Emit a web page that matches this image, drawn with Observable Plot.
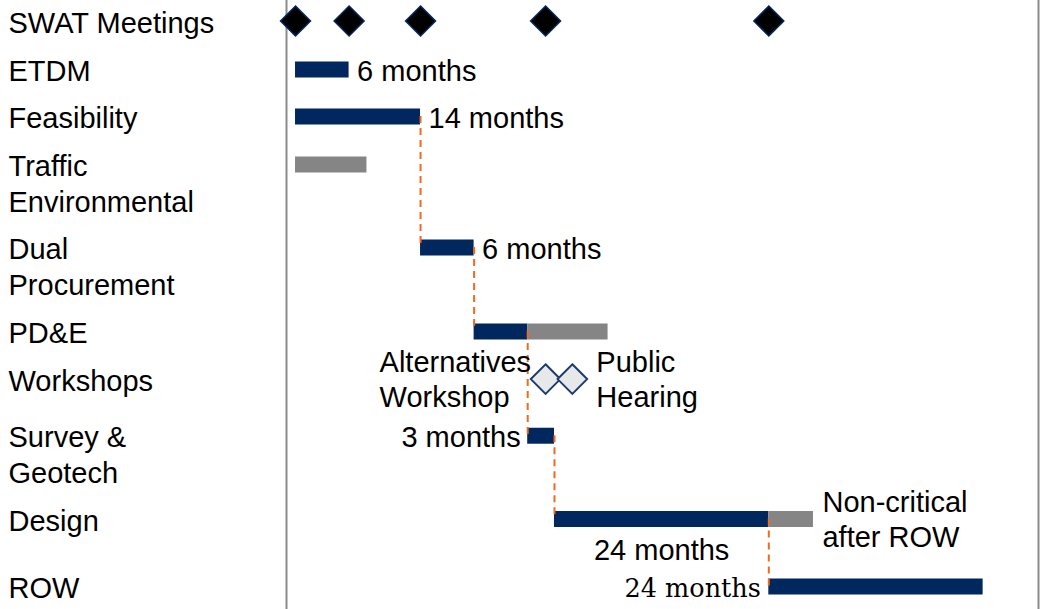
<!DOCTYPE html>
<html><head><meta charset="utf-8">
<script src="https://cdn.jsdelivr.net/npm/d3@7"></script>
<script src="https://cdn.jsdelivr.net/npm/@observablehq/plot@0.6"></script>
<style>html,body{margin:0;padding:0;background:#fff;}</style>
</head><body><div id="chart"></div>
<script>
// ---- data ----
const rows   = ["SWAT Meetings","ETDM","Feasibility","Traffic\nEnvironmental","Dual\nProcurement","PD&E","Workshops","Survey &\nGeotech","Design","ROW"];
const rowPos = [0, 1.01, 1.99, 2.99, 4.72, 6.47, 7.46, 8.64, 10.375, 11.78]; // row units (top = 0)

const barTask  = ["ETDM","Feasibility","Traffic\nEnvironmental","Dual\nProcurement","PD&E","PD&E","Survey &\nGeotech","Design","Design","ROW"];
const barStart = [0, 0, 0, 14, 20, 26, 26, 29, 53, 53];   // months
const barEnd   = [6, 14, 8, 20, 26, 35, 29, 53, 58, 77];
const barKind  = ["critical","critical","other","critical","critical","other","critical","critical","other","critical"];

const swatMonths     = [0, 6, 14, 28, 53];
const workshopMonths = [28, 31];
const workshopNames  = ["Alternatives\nWorkshop", "Public\nHearing"];
const criticalPath   = ["Feasibility","Dual\nProcurement","PD&E","Survey &\nGeotech","Design","ROW"];
const nonCriticalNote = "Non-critical\nafter ROW";

// ---- derived ----
const xDomain = [-1.01, 83.2];
const yOf = Object.fromEntries(rows.map((r, i) => [r, rowPos[i]]));
const rowData = rows.map((r, i) => ({label: r, y: rowPos[i]}));
const bars = barTask.map((t, i) => ({task: t, y: yOf[t], start: barStart[i], end: barEnd[i], kind: barKind[i],
  label: `${barEnd[i] - barStart[i]} months`}));
const critical = bars.filter(d => d.kind === "critical");
const other = bars.filter(d => d.kind !== "critical");
const connectors = d3.pairs(criticalPath).map(([a, b]) => {
  const bar = critical.find(d => d.task === a);
  return {x: bar.end, y1: yOf[a], y2: yOf[b]};
});
const labelRight = critical.filter(d => ["ETDM","Feasibility","Dual\nProcurement"].includes(d.task));
const labelLeft  = critical.filter(d => d.task === "Survey &\nGeotech");
const labelBelow = critical.filter(d => d.task === "Design");
const labelSerif = critical.filter(d => d.task === "ROW");
const noteBar = other.filter(d => d.task === "Design");

const NAVY = "#00285e", GRAY = "#858585", ORANGE = "#f26a1b";
const SANS = "'Liberation Sans', Arial, sans-serif";

const chart = Plot.plot({
  width: 1044, height: 609,
  marginLeft: 286, marginRight: 6, marginTop: 0, marginBottom: 0,
  x: {domain: xDomain, axis: null},
  y: {domain: [-0.427, 12.26], range: [0, 609], axis: null},
  style: {fontFamily: SANS, fontSize: "29px", background: "white", color: "black", overflow: "visible"},
  marks: [
    Plot.ruleX(xDomain, {stroke: "#8c8c8c", strokeWidth: 2}),
    Plot.ruleY(critical, {y: "y", x1: "start", x2: "end", stroke: NAVY, strokeWidth: 16}),
    Plot.ruleY(other, {y: "y", x1: "start", x2: "end", stroke: GRAY, strokeWidth: 16}),
    Plot.ruleX(connectors, {x: "x", y1: "y1", y2: "y2", stroke: ORANGE, strokeWidth: 2, strokeDasharray: "7,5"}),
    Plot.dot(swatMonths, {x: d => d, y: () => yOf["SWAT Meetings"], symbol: "diamond2", r: 13.5,
      fill: "black", stroke: NAVY, strokeWidth: 1.5}),
    Plot.dot(workshopMonths, {x: d => d, y: () => yOf["Workshops"], symbol: "diamond2", r: 13.3,
      fill: "#e6e8ea", stroke: "#1f3b6b", strokeWidth: 2}),
    // row labels
    Plot.text(rowData, {y: "y", text: "label", frameAnchor: "left", dx: -278, textAnchor: "start",
      lineAnchor: "top", dy: -14, lineHeight: 1.24, fontSize: 29, fill: "black"}),
    // duration labels
    Plot.text(labelRight, {x: "end", y: "y", text: "label", dx: 8, dy: 2, textAnchor: "start", fontSize: 29, fill: "black"}),
    Plot.text(labelLeft, {x: "start", y: "y", text: "label", dx: -7, dy: 2, textAnchor: "end", fontSize: 29, fill: "black"}),
    Plot.text(labelBelow, {x: d => (d.start + d.end) / 2, y: "y", text: "label", dy: 32, fontSize: 29, fill: "black"}),
    Plot.text(labelSerif, {x: "start", y: "y", text: "label", dx: -8, dy: 2, textAnchor: "end",
      fontFamily: "'DejaVu Serif', serif", fontSize: 25.5, fill: "black"}),
    Plot.text(noteBar, {x: "end", y: "y", text: () => nonCriticalNote, dx: 9, dy: -1, textAnchor: "start",
      lineHeight: 1.2, fontSize: 29, fill: "black"}),
    // workshop annotations
    Plot.text([0], {x: () => workshopMonths[0], y: () => yOf["Workshops"], text: () => workshopNames[0],
      dx: -166, dy: -1, textAnchor: "start", lineHeight: 1.2, fontSize: 29, fill: "black"}),
    Plot.text([1], {x: () => workshopMonths[1], y: () => yOf["Workshops"], text: () => workshopNames[1],
      dx: 24, dy: -1, textAnchor: "start", lineHeight: 1.2, fontSize: 29, fill: "black"})
  ]
});
document.getElementById("chart").appendChild(chart);
</script>
</body></html>
